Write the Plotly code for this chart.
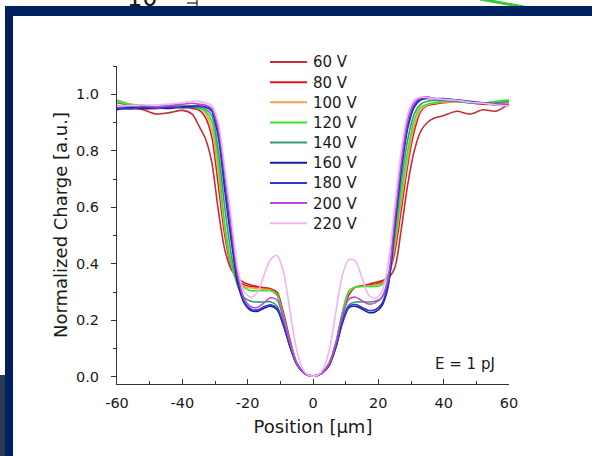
import plotly.graph_objects as go

# ---------------- data ----------------
position = [-60, -56, -52, -48, -44, -40, -37, -35, -33, -31, -29, -27, -25, -23, -21, -19, -17, -15, -13, -11, -9, -7, -5, -3, -1.5,
            0,
            1.5, 3, 5, 7, 9, 11, 13, 15, 17, 19, 21, 23, 25, 27, 29, 31, 33, 35, 37, 40, 44, 48, 52, 56, 60]

labels = ["60 V", "80 V", "100 V", "120 V", "140 V", "160 V", "180 V", "200 V", "220 V"]

v60 = [.955, .950, .945, .930, .935, .943, .930, .890, .845, .760, .590, .450, .380, .350, .333, .325, .320, .315, .312, .300, .225, .130, .050, .018, .008,
       .004,
       .008, .015, .040, .110, .210, .290, .318, .322, .328, .334, .340, .350, .385, .520, .680, .800, .870, .900, .915, .925, .940, .930, .945, .940, .965]
v80 = [.960, .955, .950, .950, .955, .955, .950, .945, .920, .850, .680, .500, .390, .340, .325, .320, .318, .315, .310, .290, .210, .120, .050, .018, .006,
       .003,
       .006, .018, .050, .120, .220, .295, .318, .322, .325, .328, .335, .360, .440, .590, .750, .870, .940, .960, .965, .970, .975, .970, .965, .965, .970]
v100 = [.975, .965, .960, .955, .960, .960, .958, .955, .935, .880, .720, .520, .395, .335, .320, .315, .312, .310, .308, .290, .210, .120, .050, .018, .006,
        .003,
        .006, .018, .050, .120, .225, .300, .318, .320, .322, .325, .330, .360, .460, .620, .770, .890, .945, .962, .968, .972, .975, .972, .968, .965, .970]
v120 = [.980, .965, .960, .955, .962, .958, .955, .950, .940, .905, .760, .540, .400, .330, .315, .305, .305, .305, .305, .290, .210, .120, .050, .018, .006,
        .003,
        .006, .018, .050, .120, .230, .305, .318, .320, .320, .320, .325, .360, .480, .650, .800, .910, .955, .965, .970, .975, .975, .970, .968, .975, .980]
v140 = [.970, .960, .958, .955, .960, .958, .955, .955, .948, .925, .800, .600, .430, .320, .280, .268, .265, .265, .266, .250, .190, .110, .045, .016, .006,
        .003,
        .006, .016, .045, .110, .200, .255, .265, .265, .265, .268, .280, .330, .500, .690, .840, .930, .965, .975, .978, .978, .975, .970, .968, .970, .975]
v160 = [.945, .955, .950, .952, .950, .955, .958, .958, .955, .940, .850, .660, .480, .330, .260, .235, .232, .243, .250, .238, .180, .105, .045, .016, .006,
        .003,
        .006, .016, .045, .105, .190, .245, .250, .240, .228, .230, .250, .320, .530, .730, .880, .955, .980, .985, .985, .980, .978, .972, .968, .962, .960]
v180 = [.950, .948, .955, .950, .955, .952, .955, .957, .957, .945, .860, .680, .500, .345, .265, .240, .237, .248, .255, .242, .182, .105, .045, .016, .006,
        .003,
        .006, .016, .045, .105, .195, .250, .256, .246, .235, .238, .258, .330, .540, .740, .890, .960, .985, .990, .985, .985, .980, .975, .970, .965, .962]
v200 = [.955, .958, .960, .955, .960, .965, .968, .965, .962, .950, .880, .720, .530, .360, .275, .248, .246, .262, .280, .272, .205, .120, .048, .016, .006,
        .003,
        .006, .016, .048, .120, .220, .275, .282, .270, .258, .262, .280, .350, .560, .760, .910, .970, .988, .990, .985, .980, .978, .972, .968, .965, .962]
v220 = [.958, .960, .962, .962, .965, .970, .975, .975, .970, .960, .900, .740, .560, .380, .300, .282, .300, .360, .415, .430, .370, .230, .095, .025, .007,
        .003,
        .007, .025, .095, .230, .360, .415, .410, .350, .290, .278, .300, .400, .600, .800, .930, .980, .990, .988, .985, .982, .978, .972, .968, .962, .958]

series = [v60, v80, v100, v120, v140, v160, v180, v200, v220]
colors = ["#c0303a", "#e8141c", "#f5a347", "#2ee82e", "#3a9a74", "#1c1c96", "#2a3cd0", "#c048e0", "#f0b4f0"]

x_ticks = [-60, -40, -20, 0, 20, 40, 60]
x_ticklabels = ["-60", "-40", "-20", "0", "20", "40", "60"]

# ---------------- helpers (pixel -> paper) ----------------
L, R, T, B = 117, 83, 66, 72
W, H = 592, 456
PW, PH = W - L - R, H - T - B


def px(x):
    return (x - L) / PW


def py(y):
    return (H - B - y) / PH


FONT = "DejaVu Sans, Arial, sans-serif"
INK = "#1a1a1a"

fig = go.Figure()
for lab, vals, col in zip(labels, series, colors):
    fig.add_trace(go.Scatter(x=position, y=vals, mode="lines", name=lab, showlegend=False,
                             line=dict(color=col, width=1.6, shape="spline", smoothing=0.8)))

shapes = [
    # fragments of the previous slide peeking above the frame
    dict(type="line", xref="paper", yref="paper", x0=px(480), y0=py(-1), x1=px(524), y1=py(7),
         line=dict(color="#3cc83c", width=3), layer="below"),
    dict(type="line", xref="paper", yref="paper", x0=px(187), y0=py(3), x1=px(197), y1=py(3),
         line=dict(color=INK, width=1.2), layer="below"),
    dict(type="line", xref="paper", yref="paper", x0=px(197), y0=py(-2), x1=px(197), y1=py(8),
         line=dict(color=INK, width=1.2), layer="below"),
    # navy frame
    dict(type="rect", xref="paper", yref="paper", x0=px(5), y0=py(6), x1=px(620), y1=py(480),
         fillcolor="#002060", line=dict(width=0), layer="below"),
    # white panel
    dict(type="rect", xref="paper", yref="paper", x0=px(13), y0=py(16), x1=px(620), y1=py(480),
         fillcolor="white", line=dict(width=0), layer="below"),
    # dark slate strip bottom-left
    dict(type="rect", xref="paper", yref="paper", x0=px(-10), y0=py(375), x1=px(5), y1=py(480),
         fillcolor="#2b3a52", line=dict(width=0), layer="below"),
]

annotations = [
    dict(text="E = 1 pJ", xref="paper", yref="paper", x=px(465), y=py(364),
         showarrow=False, font=dict(size=15), xanchor="center", yanchor="middle"),
    dict(text="10", xref="paper", yref="paper", x=px(142), y=py(14),
         showarrow=False, font=dict(size=24), xanchor="center", yanchor="bottom"),
]

# legend drawn as line samples + labels
for i, (lab, col) in enumerate(zip(labels, colors)):
    yy = 62 + 20.15 * i
    shapes.append(dict(type="line", xref="paper", yref="paper", x0=px(270), x1=px(307),
                       y0=py(yy), y1=py(yy), line=dict(color=col, width=2)))
    annotations.append(dict(text=lab, xref="paper", yref="paper", x=px(311), y=py(yy + 0.5),
                            showarrow=False, font=dict(size=15), xanchor="left", yanchor="middle"))

fig.update_layout(
    width=W, height=H, autosize=False,
    margin=dict(l=L, r=R, t=T, b=B, pad=0),
    paper_bgcolor="white", plot_bgcolor="rgba(0,0,0,0)",
    font=dict(family=FONT, color=INK, size=15),
    shapes=shapes, annotations=annotations,
    showlegend=False,
)

fig.update_xaxes(range=[-60, 60], tickvals=x_ticks, ticktext=x_ticklabels, ticks="inside", ticklen=5, tickwidth=1,
                 minor=dict(dtick=10, ticks="inside", ticklen=3, tickwidth=1, tickcolor="#333"),
                 showline=True, linecolor="#333", linewidth=1, tickcolor="#333",
                 showgrid=False, zeroline=False, tickfont=dict(size=14.5), ticklabelstandoff=6,
                 title=dict(text="Position [μm]", font=dict(size=18), standoff=9))
fig.update_yaxes(range=[-0.025, 1.1], tick0=0, dtick=0.2, tickformat=".1f", ticks="outside", ticklen=5, tickwidth=1,
                 minor=dict(dtick=0.1, ticks="outside", ticklen=3, tickwidth=1, tickcolor="#333"),
                 showline=True, linecolor="#333", linewidth=1, tickcolor="#333",
                 showgrid=False, zeroline=False, tickfont=dict(size=14.5), ticklabelstandoff=9,
                 title=dict(text="Normalized Charge [a.u.]", font=dict(size=18), standoff=3))

fig.write_html("out.html")
